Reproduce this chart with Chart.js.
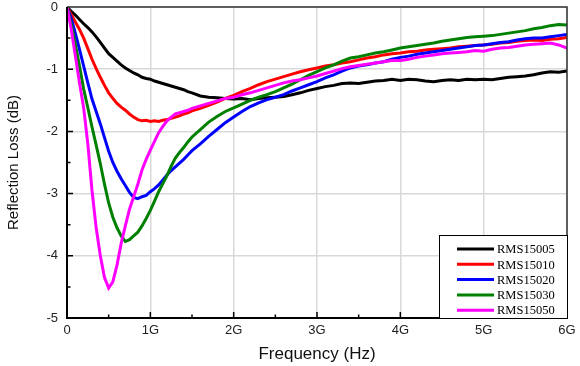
<!DOCTYPE html>
<html>
<head>
<meta charset="utf-8">
<script src="https://cdn.jsdelivr.net/npm/chart.js@4.4.0/dist/chart.umd.min.js"></script>
<style>
  html, body { margin: 0; padding: 0; background: #fff; }
  #wrap { width: 580px; height: 366px; }
</style>
</head>
<body>
<div id="wrap"><canvas id="lossChart" width="580" height="366"></canvas></div>
<script>
// Frequency in GHz (finer steps where the curves dip)
const freqG = [0, 0.05, 0.1, 0.15, 0.2, 0.25, 0.3, 0.35, 0.4, 0.45, 0.5, 0.55, 0.6, 0.65, 0.7, 0.75, 0.8, 0.85, 0.9, 0.95,
    1.0, 1.05, 1.1, 1.15, 1.2, 1.25, 1.3, 1.35, 1.4, 1.45, 1.5,
    1.6, 1.7, 1.8, 1.9, 2.0, 2.1, 2.2, 2.3, 2.4, 2.5, 2.6, 2.7, 2.8, 2.9, 3.0,
    3.1, 3.2, 3.3, 3.4, 3.5, 3.6, 3.7, 3.8, 3.9, 4.0, 4.1, 4.2, 4.3, 4.4, 4.5,
    4.6, 4.7, 4.8, 4.9, 5.0, 5.1, 5.2, 5.3, 5.4, 5.5, 5.6, 5.7, 5.8, 5.9, 6.0];

const rms15005 = [0, -0.07, -0.13, -0.2, -0.27, -0.33, -0.40, -0.48, -0.57, -0.66, -0.75, -0.81, -0.87, -0.93, -0.98, -1.02, -1.06, -1.09, -1.13, -1.15,
    -1.16, -1.19, -1.21, -1.23, -1.25, -1.27, -1.29, -1.31, -1.33, -1.36, -1.38,
    -1.43, -1.45, -1.46, -1.47, -1.48, -1.47, -1.49, -1.47, -1.46, -1.45, -1.44, -1.41, -1.38, -1.34, -1.31,
    -1.28, -1.26, -1.23, -1.22, -1.23, -1.21, -1.19, -1.18, -1.16, -1.18, -1.16, -1.17, -1.19, -1.20, -1.18,
    -1.17, -1.18, -1.16, -1.17, -1.16, -1.17, -1.15, -1.13, -1.12, -1.11, -1.09, -1.06, -1.04, -1.05, -1.03];

const rms15010 = [0, -0.12, -0.24, -0.36, -0.50, -0.67, -0.84, -0.99, -1.13, -1.26, -1.38, -1.47, -1.55, -1.61, -1.66, -1.72, -1.77, -1.81, -1.83, -1.82,
    -1.84, -1.83, -1.84, -1.82, -1.81, -1.79, -1.77, -1.75, -1.72, -1.70, -1.67,
    -1.63, -1.58, -1.53, -1.47, -1.42, -1.36, -1.31, -1.25, -1.20, -1.16, -1.12, -1.08, -1.04, -1.01, -0.98,
    -0.95, -0.93, -0.90, -0.88, -0.85, -0.82, -0.80, -0.77, -0.75, -0.74, -0.72, -0.71, -0.69, -0.68, -0.67,
    -0.66, -0.64, -0.63, -0.62, -0.61, -0.60, -0.58, -0.57, -0.55, -0.54, -0.53, -0.54, -0.52, -0.51, -0.49];

const rms15020 = [0, -0.18, -0.42, -0.68, -0.95, -1.22, -1.48, -1.68, -1.88, -2.10, -2.32, -2.50, -2.64, -2.76, -2.87, -2.98, -3.06, -3.08, -3.05, -3.03,
    -2.97, -2.92, -2.86, -2.78, -2.70, -2.63, -2.57, -2.51, -2.45, -2.38, -2.31,
    -2.20, -2.08, -1.97, -1.86, -1.77, -1.68, -1.60, -1.54, -1.49, -1.45, -1.41, -1.35, -1.30, -1.25, -1.20,
    -1.14, -1.09, -1.03, -0.98, -0.95, -0.93, -0.90, -0.88, -0.84, -0.81, -0.79, -0.76, -0.74, -0.72, -0.70,
    -0.68, -0.66, -0.64, -0.62, -0.61, -0.59, -0.57, -0.56, -0.53, -0.51, -0.50, -0.50, -0.48, -0.46, -0.44];

const rms15030 = [0, -0.28, -0.60, -0.95, -1.32, -1.62, -1.93, -2.22, -2.52, -2.85, -3.15, -3.38, -3.55, -3.68, -3.77, -3.74, -3.68, -3.62, -3.52, -3.40,
    -3.27, -3.12, -2.97, -2.84, -2.71, -2.56, -2.43, -2.34, -2.26, -2.17, -2.09,
    -1.97, -1.85, -1.76, -1.68, -1.62, -1.56, -1.50, -1.45, -1.41, -1.36, -1.30, -1.24, -1.17, -1.10, -1.04,
    -0.98, -0.93, -0.87, -0.82, -0.80, -0.77, -0.74, -0.72, -0.69, -0.66, -0.64, -0.62, -0.60, -0.58, -0.55,
    -0.53, -0.51, -0.49, -0.48, -0.47, -0.46, -0.44, -0.42, -0.40, -0.38, -0.35, -0.33, -0.30, -0.28, -0.29];

const rms15050 = [0, -0.35, -0.78, -1.22, -1.62, -2.20, -2.95, -3.55, -4.00, -4.35, -4.52, -4.42, -4.15, -3.80, -3.52, -3.25, -3.05, -2.85, -2.62, -2.45,
    -2.30, -2.16, -2.02, -1.92, -1.83, -1.77, -1.72, -1.70, -1.68, -1.66, -1.63,
    -1.59, -1.55, -1.51, -1.47, -1.45, -1.41, -1.38, -1.34, -1.30, -1.26, -1.22, -1.19, -1.17, -1.14, -1.11,
    -1.07, -1.03, -0.99, -0.96, -0.94, -0.92, -0.90, -0.88, -0.86, -0.86, -0.84, -0.81, -0.79, -0.77, -0.75,
    -0.74, -0.73, -0.72, -0.70, -0.71, -0.68, -0.66, -0.65, -0.63, -0.61, -0.60, -0.59, -0.58, -0.61, -0.66];

const seriesNames = ['RMS15005', 'RMS15010', 'RMS15020', 'RMS15030', 'RMS15050'];
const seriesColors = ['#000000', '#ff0000', '#0000ff', '#008000', '#ff00ff'];
const seriesValues = [rms15005, rms15010, rms15020, rms15030, rms15050];

const xMajor = [1, 2, 3, 4, 5];
const xMinor = [0.5, 1.5, 2.5, 3.5, 4.5, 5.5];
const yMajor = [-1, -2, -3, -4];
const yMinor = [-0.5, -1.5, -2.5, -3.5, -4.5];

// Frame, inward ticks and the boxed legend
const framePlugin = {
    id: 'frame',
    afterDatasetsDraw(chart) {
        const { ctx, chartArea: a, scales: { x, y } } = chart;
        ctx.save();
        // top / right border
        ctx.strokeStyle = '#333';
        ctx.lineWidth = 1.5;
        ctx.beginPath();
        ctx.moveTo(a.left, a.top);
        ctx.lineTo(a.right, a.top);
        ctx.lineTo(a.right, a.bottom);
        ctx.stroke();

        // left / bottom axes
        ctx.strokeStyle = '#000';
        ctx.lineWidth = 2;
        ctx.beginPath();
        ctx.moveTo(a.left, a.top);
        ctx.lineTo(a.left, a.bottom);
        ctx.lineTo(a.right, a.bottom);
        ctx.stroke();

        // inward ticks
        ctx.lineWidth = 1.5;
        ctx.beginPath();
        xMajor.forEach(v => { const p = x.getPixelForValue(v); ctx.moveTo(p, a.bottom); ctx.lineTo(p, a.bottom - 6); });
        xMinor.forEach(v => { const p = x.getPixelForValue(v); ctx.moveTo(p, a.bottom); ctx.lineTo(p, a.bottom - 3.5); });
        yMajor.forEach(v => { const p = y.getPixelForValue(v); ctx.moveTo(a.left, p); ctx.lineTo(a.left + 6, p); });
        yMinor.forEach(v => { const p = y.getPixelForValue(v); ctx.moveTo(a.left, p); ctx.lineTo(a.left + 3.5, p); });
        ctx.stroke();

        // legend box
        const bx = a.right - 128, by = a.bottom - 83;
        ctx.fillStyle = '#fff';
        ctx.fillRect(bx, by, a.right - bx, a.bottom - by);
        ctx.strokeStyle = '#000';
        ctx.lineWidth = 1;
        ctx.strokeRect(bx + 0.5, by + 0.5, a.right - bx, a.bottom - by);

        ctx.font = '12.5px "Liberation Serif", "Times New Roman", serif';
        ctx.textBaseline = 'middle';
        ctx.textAlign = 'left';
        chart.data.datasets.forEach((ds, i) => {
            const ly = by + 14 + i * 15.3;
            ctx.strokeStyle = ds.borderColor;
            ctx.lineWidth = 3;
            ctx.beginPath();
            ctx.moveTo(bx + 18, ly);
            ctx.lineTo(bx + 55, ly);
            ctx.stroke();
            ctx.fillStyle = '#000';
            ctx.fillText(ds.label, bx + 58, ly + 1);
        });
        ctx.restore();
    }
};

const ctx = document.getElementById('lossChart').getContext('2d');
new Chart(ctx, {
    type: 'line',
    data: {
        datasets: seriesValues.map((vals, i) => ({
            label: seriesNames[i],
            data: freqG.map((f, j) => ({ x: f, y: vals[j] })),
            borderColor: seriesColors[i],
            backgroundColor: seriesColors[i],
            borderWidth: 3,
            pointRadius: 0,
            tension: 0,
            order: seriesValues.length - i
        }))
    },
    options: {
        responsive: false,
        animation: false,
        layout: { padding: { top: 7, right: 13, left: 0, bottom: 0 } },
        plugins: {
            legend: { display: false },
            tooltip: { enabled: false }
        },
        scales: {
            x: {
                type: 'linear',
                min: 0,
                max: 6,
                afterFit: s => { s.height = 48; s.paddingLeft = 0; s.paddingRight = 0; },
                ticks: {
                    stepSize: 1,
                    padding: 5,
                    color: '#222',
                    font: { family: '"Liberation Sans", Arial, sans-serif', size: 13 },
                    callback: v => v === 0 ? '0' : v + 'G'
                },
                grid: { color: '#d9d9d9', lineWidth: 1.5, drawTicks: false },
                border: { display: false },
                title: {
                    display: true,
                    text: 'Frequency (Hz)',
                    color: '#111',
                    padding: { top: 0, bottom: 1 },
                    font: { family: '"Liberation Sans", Arial, sans-serif', size: 17 }
                }
            },
            y: {
                min: -5,
                max: 0,
                afterFit: s => { s.width = 67; s.paddingTop = 0; s.paddingBottom = 0; },
                ticks: {
                    stepSize: 1,
                    padding: 9,
                    color: '#222',
                    font: { family: '"Liberation Sans", Arial, sans-serif', size: 13 }
                },
                grid: { color: '#d9d9d9', lineWidth: 1.5, drawTicks: false },
                border: { display: false },
                title: {
                    display: true,
                    text: 'Reflection Loss (dB)',
                    color: '#111',
                    padding: { top: 5, bottom: 0 },
                    font: { family: '"Liberation Sans", Arial, sans-serif', size: 15 }
                }
            }
        }
    },
    plugins: [framePlugin]
});
</script>
</body>
</html>
